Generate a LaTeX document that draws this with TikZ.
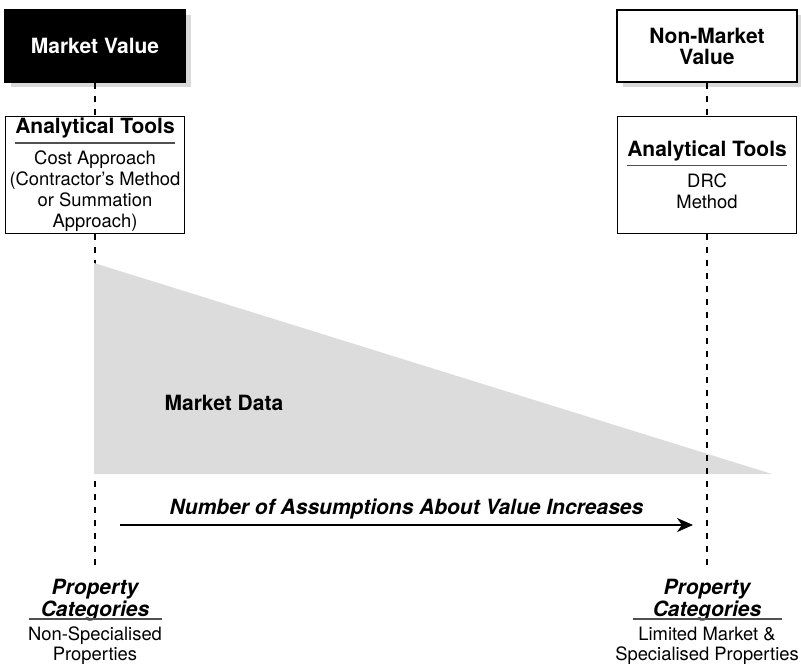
\documentclass[tikz,border=0pt]{standalone}
\usepackage{fontspec}
\setmainfont{TeX Gyre Heros}
\usepackage{tikz}
\usetikzlibrary{positioning, arrows.meta, shadows}

\definecolor{shadowgray}{HTML}{D9D9D9}
\definecolor{wedgegray}{HTML}{DCDCDC}
\definecolor{rulegray}{HTML}{505050}

\newcommand{\headfont}{\fontsize{10.5}{10.5}\selectfont\bfseries}
\newcommand{\catfont}{\fontsize{10.5}{10}\selectfont\bfseries\itshape}
\newcommand{\headrule}[1]{\setbox0\hbox{#1}\vbox{\offinterlineskip\copy0\kern1.8pt\hbox{\color{rulegray}\rule{\wd0}{0.8pt}}}}

\begin{document}
\begin{tikzpicture}[x=0.5pt, y=-0.5pt]
            % Box styles
            \tikzstyle{valuebox} = [rectangle, draw, line width=0.6pt, minimum width=90pt, minimum height=36pt, align=center, font=\headfont, drop shadow={shadow xshift=3pt, shadow yshift=-2.5pt, fill=shadowgray, opacity=1}]
            \tikzstyle{toolbox} = [rectangle, draw, line width=0.6pt, minimum width=89.5pt, minimum height=58.5pt, align=center, inner sep=1pt, font=\fontsize{9.2}{10.5}\selectfont]
            \tikzstyle{catlabel} = [align=center, inner sep=1pt, anchor=north, font=\fontsize{9.2}{10}\selectfont]
            \tikzstyle{guide} = [line width=1.1pt, dash pattern=on 3pt off 3.5pt]

            \useasboundingbox (0,0) rectangle (801,663);

            % Value boxes
            \node[valuebox, fill=black, text=white] (market) at (95,46) {Market Value};
            \node[valuebox, fill=white] (nonmarket) at (707,46) {Non-Market\\Value};

            % Analytical tools
            \node[toolbox, below=16.5pt of market] (tools1) {\headrule{\headfont Analytical Tools}\\Cost Approach\\(Contractor’s Method\\or Summation\\Approach)};
            \node[toolbox, below=16.5pt of nonmarket] (tools2) {\headrule{\headfont Analytical Tools}\\DRC\\Method};

            % Property categories
            \node[catlabel] (cat1) at (95,577) {{\catfont Property}\\{\catfont Categories}\\[-8.5pt]\textcolor{rulegray}{\rule{66.5pt}{0.8pt}}\\[0.5pt]Non-Specialised\\Properties};
            \node[catlabel] (cat2) at (707,577) {{\catfont Property}\\{\catfont Categories}\\[-8.5pt]\textcolor{rulegray}{\rule{74.5pt}{0.8pt}}\\[0.5pt]Limited Market \&\\Specialised Properties};

            % Left guide (under the wedge)
            \draw[guide] (market) -- (tools1);
            \draw[guide, shorten >=6pt] (tools1) -- (cat1);

            % Market data wedge
            \coordinate (wtop) at (94,263);
            \coordinate (wbase) at (94,474);
            \coordinate (wtip) at (772,474);
            \fill[wedgegray] (wtop) -- (wtip) -- (wbase) -- cycle;
            \node[font=\headfont] (mdata) at (224,403) {Market Data};

            % Right guide
            \draw[guide] (nonmarket) -- (tools2);
            \draw[guide, shorten >=6pt] (tools2) -- (cat2);

            % Assumptions arrow
            \coordinate (astart) at (120,525);
            \coordinate (aend) at (693,525);
            \draw[-{Stealth[length=8pt, width=7pt, inset=2.5pt]}, line width=1.2pt] (astart) -- (aend)
                node[midway, above=-1pt, font=\headfont\itshape] (alabel) {Number of Assumptions About Value Increases};
\end{tikzpicture}
\end{document}
